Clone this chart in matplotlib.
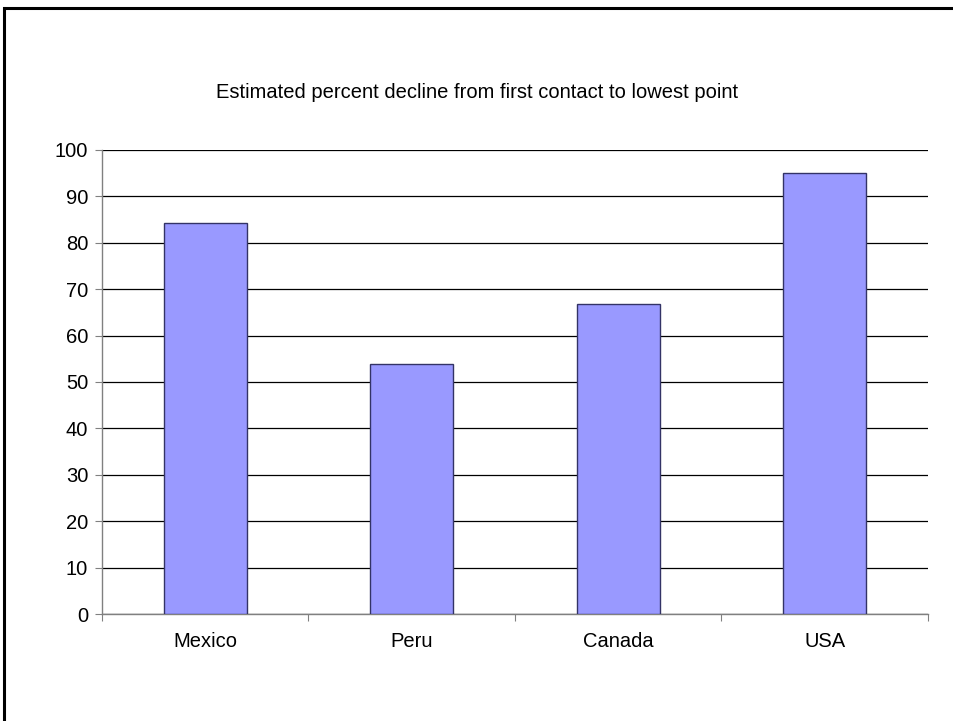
import matplotlib.pyplot as plt
from matplotlib.patches import Rectangle

plt.rcParams['font.family'] = ['Liberation Sans', 'DejaVu Sans']

# Datos
paises = ["Mexico", "Peru", "Canada", "USA"]
declive = [84.2, 53.9, 66.8, 95.0]
marcas_y = list(range(0, 101, 10))

fig = plt.figure(figsize=(9.54, 7.21), dpi=100)
ax = fig.add_axes([0.1069, 0.1484, 0.8658, 0.6436])

# marco exterior de la figura
fig.patches.append(Rectangle((0.004, -0.1), 1.1, 1.089, transform=fig.transFigure,
                             fill=False, edgecolor='black', linewidth=2.2))

posiciones = range(len(paises))
ax.bar(posiciones, declive, width=0.4, color='#9999FF', edgecolor='#333366',
       linewidth=1.0, zorder=3)

ax.set_xlim(-0.5, len(paises) - 0.5)
ax.set_ylim(0, 100)
ax.set_yticks(marcas_y)
ax.yaxis.grid(True, color='black', linewidth=0.9, zorder=0)

ax.set_xticks([i - 0.5 for i in range(len(paises) + 1)])
ax.set_xticklabels([])
ax.set_xticks(list(posiciones), minor=True)
ax.set_xticklabels(paises, minor=True, fontsize=14.5)
ax.tick_params(axis='x', which='major', length=5, color='#808080', direction='out')
ax.tick_params(axis='x', which='minor', length=0, pad=13)
ax.tick_params(axis='y', length=5, color='#808080', labelsize=14.5, pad=5)

for lado in ['top', 'right']:
    ax.spines[lado].set_visible(False)
for lado in ['left', 'bottom']:
    ax.spines[lado].set_color('#808080')
    ax.spines[lado].set_linewidth(1.0)

fig.text(0.5, 1 - 93 / 721, "Estimated percent decline from first contact to lowest point",
         ha='center', va='center', fontsize=14.5)

fig.savefig("out.png", dpi=100)
